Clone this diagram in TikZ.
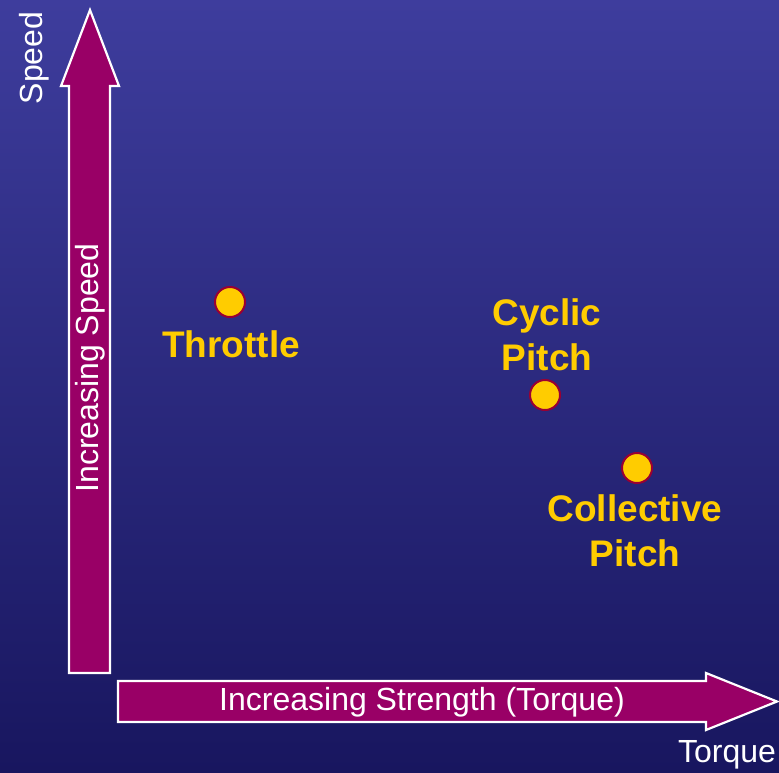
\documentclass[tikz,border=0pt]{standalone}
\usepackage{fontspec}
\setmainfont{Liberation Sans}
\definecolor{bgtop}{HTML}{3E3D9D}
\definecolor{bgbot}{HTML}{18165F}
\definecolor{arrowfill}{HTML}{990066}
\definecolor{dotfill}{HTML}{FFCC00}
\definecolor{dotedge}{HTML}{990033}
\definecolor{labelyellow}{HTML}{FFCC00}
\tikzset{
  bigarrow/.style={fill=arrowfill, draw=white, line width=2.2pt, line join=miter},
  dot/.style={circle, fill=dotfill, draw=dotedge, line width=2pt, minimum size=30pt, inner sep=0pt},
  ylabel/.style={text=labelyellow, font=\fontsize{37}{45}\selectfont\bfseries, align=center, inner sep=0pt},
  wlabel/.style={text=white, font=\fontsize{32}{38}\selectfont, inner sep=0pt},
}
\begin{document}
\begin{tikzpicture}[x=1pt,y=1pt]
\shade[top color=bgtop, bottom color=bgbot] (0,0) rectangle (779,-772);
\useasboundingbox (0,0) rectangle (779,-772);
% vertical arrow
\draw[bigarrow] (69,-673) -- (69,-86) -- (61,-86) -- (90,-10) -- (119,-86) -- (110,-86) -- (110,-673) -- cycle;
% horizontal arrow
\draw[bigarrow] (118,-681) -- (706,-681) -- (706,-673) -- (777,-701.5) -- (706,-730) -- (706,-722) -- (118,-722) -- cycle;
\node[wlabel, rotate=90] (incspeed) at (90,-368) {Increasing Speed};
\node[wlabel] (incstr) at (422,-702) {Increasing Strength (Torque)};
\node[wlabel, rotate=90] (speed) at (34,-58) {Speed};
\node[wlabel] (torque) at (727,-755) {Torque};
% dots
\node[dot] (throttle) at (230,-302) {};
\node[dot] (cyclic) at (545,-395) {};
\node[dot] (collective) at (637,-468) {};
\node[ylabel] (throttlelbl) at (231,-344) {Throttle};
\node[ylabel] (cycliclbl) at (547,-334.5) {Cyclic\\Pitch};
\node[ylabel] (collectivelbl) at (635,-531) {Collective\\Pitch};
\end{tikzpicture}
\end{document}
